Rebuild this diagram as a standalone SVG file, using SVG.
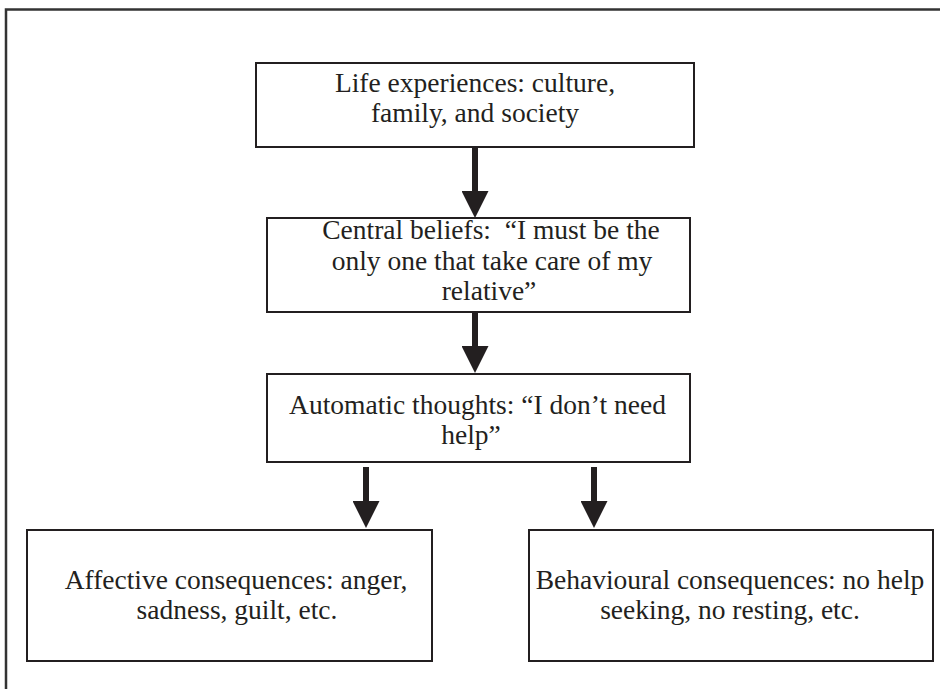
<svg xmlns="http://www.w3.org/2000/svg" width="940" height="689" viewBox="0 0 940 689">
<defs>
<style>
.box{fill:#fff;stroke:#231f20;stroke-width:2}
.frame{fill:none;stroke:#333;stroke-width:2.5}
.t{font-family:"Liberation Serif","Times New Roman",serif;font-size:27.5px;fill:#231f20;text-anchor:middle}
.arr{stroke:#231f20;stroke-width:6;fill:none;marker-end:url(#head)}
</style>
<marker id="head" viewBox="0 0 27 27" refX="14" refY="13.5" markerWidth="27" markerHeight="27" markerUnits="userSpaceOnUse" orient="auto">
<path d="M0,0 L27,13.5 L0,27 z" fill="#231f20"/>
</marker>
</defs>
<rect width="940" height="689" fill="#fff"/>
<path class="frame" d="M6,689 V9.5 H940"/>
<g id="life">
<rect class="box" x="256" y="63" width="438" height="84"/>
<text class="t" x="475" y="92">Life experiences: culture,</text>
<text class="t" x="475" y="122">family, and society</text>
</g>
<g id="central">
<rect class="box" x="267" y="218" width="423" height="94"/>
<text class="t" x="491" y="239" xml:space="preserve">Central beliefs:  “I must be the</text>
<text class="t" x="492" y="270">only one that take care of my</text>
<text class="t" x="489" y="300">relative”</text>
</g>
<g id="automatic">
<rect class="box" x="267" y="374" width="423" height="88"/>
<text class="t" x="477.5" y="414">Automatic thoughts: “I don’t need</text>
<text class="t" x="471" y="444">help”</text>
</g>
<g id="affective">
<rect class="box" x="27" y="530" width="405" height="131"/>
<text class="t" x="236" y="589">Affective consequences: anger,</text>
<text class="t" x="237" y="619">sadness, guilt, etc.</text>
</g>
<g id="behavioural">
<rect class="box" x="529" y="530" width="404" height="131"/>
<text class="t" x="730" y="589">Behavioural consequences: no help</text>
<text class="t" x="730" y="619">seeking, no resting, etc.</text>
</g>
<g id="connectors">
<line class="arr" x1="475" y1="147" x2="475" y2="205"/>
<line class="arr" x1="475" y1="312" x2="475" y2="360"/>
<line class="arr" x1="366" y1="467" x2="366" y2="515"/>
<line class="arr" x1="594" y1="467" x2="594" y2="515"/>
</g>
</svg>
